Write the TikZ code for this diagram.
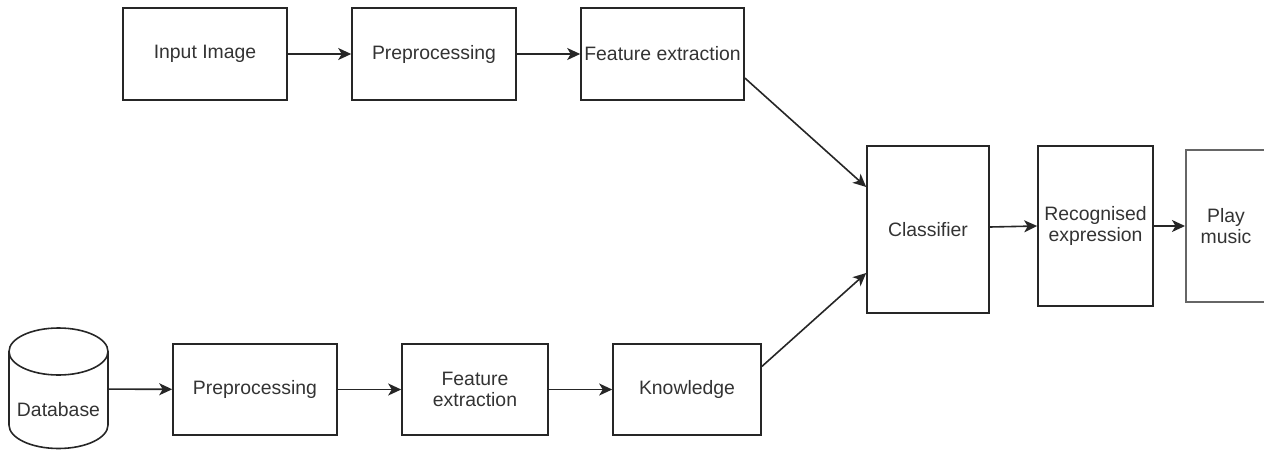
\documentclass[tikz,border=0pt]{standalone}
\usepackage{fontspec}
\setmainfont{Liberation Sans}
\usetikzlibrary{arrows.meta}
\begin{document}
\begin{tikzpicture}[x=1pt,y=-1pt,
  box/.style={draw=black!85, line width=1.6pt, rectangle, inner sep=0pt, align=center,
    text=black!80, font=\fontsize{19.4}{21}\selectfont},
  conn/.style={draw=black!85, line width=1.6pt, -{Stealth[length=13pt,width=12pt,inset=3.5pt]}},
  txt/.style={text=black!80, font=\fontsize{19.4}{21}\selectfont, inner sep=0pt}]
\useasboundingbox (0,0) rectangle (1264,450);
% top row
\node[box, minimum width=164pt, minimum height=92pt] (inp) at (205,54) {Input Image};
\node[box, minimum width=164pt, minimum height=92pt] (pre1) at (434,54) {Preprocessing};
\node[box, minimum width=163pt, minimum height=92pt] (fe1) at (662.5,54) {Feature extraction};
% right part
\node[box, minimum width=122pt, minimum height=167pt] (cl) at (928,229.5) {Classifier};
\node[box, minimum width=115pt, minimum height=160pt] (rec) at (1095.5,226) {Recognised\\expression};
\node[box, draw=black!60, line width=2pt, minimum width=80pt, minimum height=152pt] (play) at (1226,226) {Play\\music};
% bottom row
\node[box, minimum width=164pt, minimum height=91pt] (pre2) at (255,389.5) {Preprocessing};
\node[box, minimum width=146pt, minimum height=91pt] (fe2) at (475,389.5) {Feature\\extraction};
\node[box, minimum width=148pt, minimum height=91pt] (kn) at (687,389.5) {Knowledge};
% database cylinder
\node[minimum width=99pt, minimum height=120pt, inner sep=0pt] (db) at (58.5,389) {};
\draw[draw=black!85, line width=1.6pt] (58.5,351.5) ellipse [x radius=49.5, y radius=23.5];
\draw[draw=black!85, line width=1.6pt] (9,351.5) -- (9,425) arc[start angle=180, end angle=0, x radius=49.5, y radius=23.5] -- (108,351.5);
\node[txt] (dbl) at (58.5,410) {Database};
% connectors
\draw[conn] (inp) -- (pre1);
\draw[conn] (pre1) -- (fe1);
\draw[conn] ([yshift=-24pt]fe1.east) -- ([yshift=42.5pt]cl.west);
\draw[conn] ([yshift=23pt]kn.east) -- ([yshift=-43.5pt]cl.west);
\draw[conn] ([yshift=2.5pt]cl.east) -- (rec.west);
\draw[conn] (rec) -- (play);
\draw[conn] (db) -- (pre2);
\draw[conn] (pre2) -- (fe2);
\draw[conn] (fe2) -- (kn);
\end{tikzpicture}
\end{document}
